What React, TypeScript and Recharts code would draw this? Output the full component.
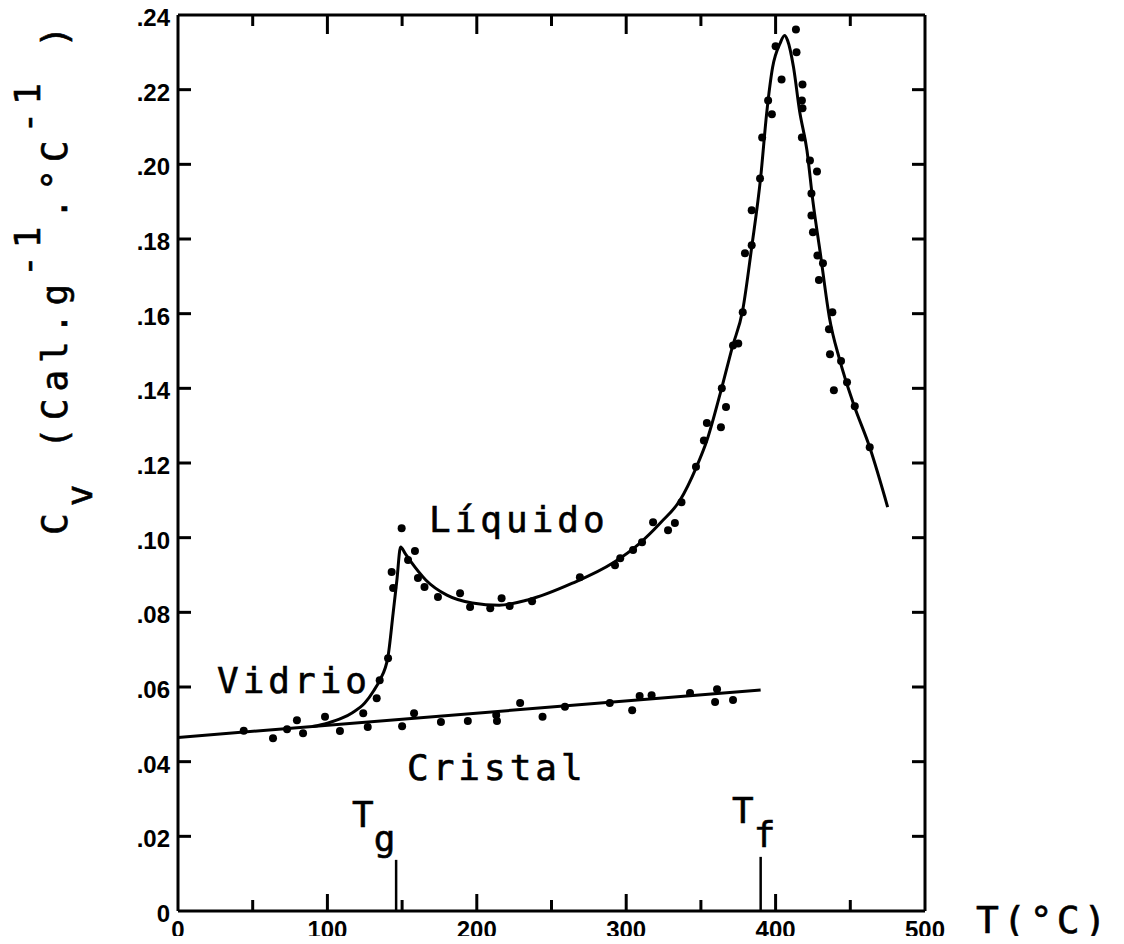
import { ComposedChart, Line, Scatter, XAxis, YAxis } from 'recharts';

// temperature ticks (°C) and their labels
const xTicks = [0, 50, 100, 150, 200, 250, 300, 350, 400, 450, 500];
const xTickLabels = ['0', '', '100', '', '200', '', '300', '', '400', '', '500'];

// Cv ticks and labels
const yTicks = [0, 0.02, 0.04, 0.06, 0.08, 0.1, 0.12, 0.14, 0.16, 0.18, 0.2, 0.22, 0.24];
const yTickLabels = ['0', '.02', '.04', '.06', '.08', '.10', '.12', '.14', '.16', '.18', '.20', '.22', '.24'];

// fitted line for the crystal
const crystalLine = [
  { t: 0, v: 0.0465 },
  { t: 390, v: 0.0592 },
];

// fitted curve glass -> liquid
const glassLiquidCurve = [
  { t: 90, v: 0.0494 },
  { t: 100, v: 0.0503 },
  { t: 110, v: 0.0517 },
  { t: 117, v: 0.0532 },
  { t: 125, v: 0.0557 },
  { t: 131, v: 0.059 },
  { t: 135, v: 0.0618 },
  { t: 140.5, v: 0.068 },
  { t: 144, v: 0.0798 },
  { t: 146.5, v: 0.0886 },
  { t: 149, v: 0.0975 },
  { t: 152, v: 0.0958 },
  { t: 156, v: 0.0935 },
  { t: 166, v: 0.0886 },
  { t: 180, v: 0.0846 },
  { t: 197, v: 0.0825 },
  { t: 215, v: 0.0819 },
  { t: 234, v: 0.0833 },
  { t: 264, v: 0.0878 },
  { t: 291, v: 0.0932 },
  { t: 309, v: 0.0985 },
  { t: 323, v: 0.104 },
  { t: 336, v: 0.11 },
  { t: 347, v: 0.1189 },
  { t: 354, v: 0.126 },
  { t: 363, v: 0.1387 },
  { t: 371, v: 0.151 },
  { t: 378, v: 0.161 },
  { t: 384, v: 0.1778 },
  { t: 390, v: 0.1965 },
  { t: 394, v: 0.2136 },
  { t: 398, v: 0.226 },
  { t: 403, v: 0.2324 },
  { t: 406, v: 0.2345 },
  { t: 408, v: 0.2332 },
  { t: 412, v: 0.226 },
  { t: 416, v: 0.2144 },
  { t: 421, v: 0.2037 },
  { t: 425, v: 0.19 },
  { t: 430, v: 0.176 },
  { t: 436, v: 0.159 },
  { t: 443, v: 0.1475 },
  { t: 452, v: 0.136 },
  { t: 463, v: 0.1242 },
  { t: 475, v: 0.1082 },
];

// measured points, crystal / glass branch
const crystalDots = [
  { t: 44, v: 0.0483 }, { t: 63.6, v: 0.0463 }, { t: 73, v: 0.0487 }, { t: 79.6, v: 0.0511 },
  { t: 83.7, v: 0.0476 }, { t: 98.4, v: 0.052 }, { t: 108.4, v: 0.0482 }, { t: 124, v: 0.053 },
  { t: 127, v: 0.0493 }, { t: 133, v: 0.057 }, { t: 135, v: 0.0618 }, { t: 140.6, v: 0.0677 },
  { t: 150, v: 0.0495 }, { t: 158, v: 0.053 }, { t: 176, v: 0.0506 }, { t: 194, v: 0.0509 },
  { t: 213, v: 0.0525 }, { t: 213.5, v: 0.0509 }, { t: 229, v: 0.0557 }, { t: 244, v: 0.052 },
  { t: 259, v: 0.0547 }, { t: 289, v: 0.0557 }, { t: 304, v: 0.0538 }, { t: 309, v: 0.0576 },
  { t: 317, v: 0.0578 }, { t: 342.7, v: 0.0584 }, { t: 360.8, v: 0.0594 }, { t: 359.5, v: 0.056 },
  { t: 371.5, v: 0.0565 },
];

// measured points, liquid branch
const liquidDots = [
  { t: 143, v: 0.0908 }, { t: 144, v: 0.0865 }, { t: 149.7, v: 0.1025 }, { t: 154, v: 0.094 },
  { t: 158.6, v: 0.0964 }, { t: 160.6, v: 0.0892 }, { t: 165, v: 0.0868 }, { t: 174, v: 0.0841 },
  { t: 188.8, v: 0.0851 }, { t: 195.5, v: 0.0814 }, { t: 209, v: 0.0811 }, { t: 216.6, v: 0.0838 },
  { t: 222, v: 0.0817 }, { t: 237, v: 0.083 }, { t: 269, v: 0.0894 }, { t: 292.5, v: 0.0926 },
  { t: 296, v: 0.0945 }, { t: 304.6, v: 0.0967 }, { t: 310.6, v: 0.0988 }, { t: 318, v: 0.1041 },
  { t: 328, v: 0.102 }, { t: 332.6, v: 0.1039 }, { t: 337, v: 0.1095 }, { t: 346.7, v: 0.119 },
  { t: 352, v: 0.126 }, { t: 354, v: 0.1307 }, { t: 363.4, v: 0.1296 }, { t: 364, v: 0.14 },
  { t: 366.8, v: 0.135 }, { t: 371.5, v: 0.1515 }, { t: 375, v: 0.152 }, { t: 378, v: 0.1604 },
  { t: 379.5, v: 0.1762 }, { t: 384, v: 0.1783 }, { t: 384, v: 0.1877 }, { t: 389.6, v: 0.1962 },
  { t: 391, v: 0.2072 }, { t: 395, v: 0.2171 }, { t: 397.5, v: 0.2134 }, { t: 400, v: 0.2316 },
  { t: 404, v: 0.2227 }, { t: 413.6, v: 0.2361 }, { t: 414, v: 0.23 }, { t: 417.6, v: 0.2171 },
  { t: 418, v: 0.2214 }, { t: 418, v: 0.215 }, { t: 417.6, v: 0.2072 }, { t: 423, v: 0.201 },
  { t: 427.7, v: 0.1981 }, { t: 424, v: 0.1922 }, { t: 424, v: 0.1863 }, { t: 425, v: 0.1818 },
  { t: 428, v: 0.1756 }, { t: 431.7, v: 0.1735 }, { t: 429, v: 0.169 }, { t: 438, v: 0.1604 },
  { t: 435.7, v: 0.1558 }, { t: 436.4, v: 0.1491 }, { t: 443.8, v: 0.1473 }, { t: 439, v: 0.1395 },
  { t: 447.8, v: 0.1416 }, { t: 453, v: 0.1352 }, { t: 463, v: 0.1242 },
];

// Tg and Tf markers
const tgMarker = [{ t: 146, v: 0 }, { t: 146, v: 0.0137 }];
const tfMarker = [{ t: 390, v: 0 }, { t: 390, v: 0.0145 }];

const INK = '#000';
const MONO = '"DejaVu Sans Mono", monospace';
const TICK_FONT = '"Liberation Sans", Arial, sans-serif';

const BottomTick = (props: any) => {
  const { x, y, payload } = props;
  const i = xTicks.indexOf(payload.value);
  const major = payload.value % 100 === 0;
  const inner = payload.value > 0 && payload.value < 500;
  return (
    <g>
      {inner && <line x1={x} x2={x} y1={y} y2={y - (major ? 17 : 11)} stroke={INK} strokeWidth={3} />}
      {xTickLabels[i] && (
        <text x={x} y={y + 27} textAnchor="middle" fontFamily={TICK_FONT} fontWeight={700} fontSize={24} fill={INK}>
          {xTickLabels[i]}
        </text>
      )}
    </g>
  );
};

const TopTick = (props: any) => {
  const { x, y, payload } = props;
  const major = payload.value % 100 === 0;
  if (payload.value <= 0 || payload.value >= 500) return <g />;
  return <line x1={x} x2={x} y1={y} y2={y + (major ? 19 : 11)} stroke={INK} strokeWidth={3} />;
};

const LeftTick = (props: any) => {
  const { x, y, index } = props;
  const inner = index > 0 && index < yTicks.length - 1;
  return (
    <g>
      {inner && <line x1={x} x2={x + 13} y1={y} y2={y} stroke={INK} strokeWidth={3} />}
      <text x={x - 8} y={y + 11} textAnchor="end" fontFamily={TICK_FONT} fontWeight={700} fontSize={24} fill={INK}>
        {yTickLabels[index]}
      </text>
    </g>
  );
};

const RightTick = (props: any) => {
  const { x, y, index } = props;
  if (index <= 0 || index >= yTicks.length - 1) return <g />;
  return <line x1={x} x2={x - 13} y1={y} y2={y} stroke={INK} strokeWidth={3} />;
};

const dot = (p: any) => <circle cx={p.cx} cy={p.cy} r={4} fill={INK} />;

const axisLine = { stroke: INK, strokeWidth: 3 };
// typewriter lettering is a bit heavier than the plain mono font
const ink = { fill: INK, stroke: INK, strokeWidth: 0.6 };

export default function App() {
  return (
    <div style={{ margin: -8, width: 1124, height: 944, background: '#fff' }}>
      <ComposedChart width={1124} height={944} margin={{ top: 14, right: 198, bottom: 0, left: 0 }}>
        <XAxis
          xAxisId="b"
          dataKey="t"
          type="number"
          domain={[0, 500]}
          ticks={xTicks}
          interval={0}
          tickSize={0}
          tickMargin={0}
          tickLine={false}
          axisLine={axisLine}
          height={33}
          tick={BottomTick}
          allowDataOverflow
        />
        <XAxis
          xAxisId="t"
          dataKey="t"
          orientation="top"
          type="number"
          domain={[0, 500]}
          ticks={xTicks}
          interval={0}
          tickSize={0}
          tickMargin={0}
          tickLine={false}
          axisLine={axisLine}
          height={1}
          tick={TopTick}
          allowDataOverflow
        />
        <YAxis
          yAxisId="l"
          dataKey="v"
          type="number"
          domain={[0, 0.24]}
          ticks={yTicks}
          interval={0}
          tickSize={0}
          tickMargin={0}
          tickLine={false}
          axisLine={axisLine}
          width={178}
          tick={LeftTick}
          allowDataOverflow
        />
        <YAxis
          yAxisId="r"
          dataKey="v"
          orientation="right"
          type="number"
          domain={[0, 0.24]}
          ticks={yTicks}
          interval={0}
          tickSize={0}
          tickMargin={0}
          tickLine={false}
          axisLine={axisLine}
          width={1}
          tick={RightTick}
          allowDataOverflow
        />

        {/* invisible copy so the top and right frame axes get a scale */}
        <Line xAxisId="t" yAxisId="r" data={crystalLine} dataKey="v" stroke="none" dot={false} activeDot={false} isAnimationActive={false} />

        <Line xAxisId="b" yAxisId="l" data={crystalLine} dataKey="v" type="linear" stroke={INK} strokeWidth={3} dot={false} isAnimationActive={false} />
        <Line xAxisId="b" yAxisId="l" data={glassLiquidCurve} dataKey="v" type="monotone" stroke={INK} strokeWidth={3} dot={false} isAnimationActive={false} />
        <Line xAxisId="b" yAxisId="l" data={tgMarker} dataKey="v" type="linear" stroke={INK} strokeWidth={2.5} dot={false} isAnimationActive={false} />
        <Line xAxisId="b" yAxisId="l" data={tfMarker} dataKey="v" type="linear" stroke={INK} strokeWidth={2.5} dot={false} isAnimationActive={false} />
        <Scatter xAxisId="b" yAxisId="l" data={crystalDots} dataKey="v" shape={dot} isAnimationActive={false} />
        <Scatter xAxisId="b" yAxisId="l" data={liquidDots} dataKey="v" shape={dot} isAnimationActive={false} />

        <text x={429} y={532} fontFamily={MONO} fontSize={36} letterSpacing={4} {...ink}>Líquido</text>
        <text x={217} y={693} fontFamily={MONO} fontSize={36} letterSpacing={4} {...ink}>Vidrio</text>
        <text x={407} y={780} fontFamily={MONO} fontSize={36} letterSpacing={4} {...ink}>Cristal</text>
        <text x={352} y={827} fontFamily={MONO} fontSize={36} {...ink}>
          T<tspan dy={24}>g</tspan>
        </text>
        <text x={732} y={823} fontFamily={MONO} fontSize={36} {...ink}>
          T<tspan dy={24}>f</tspan>
        </text>
        <text x={976} y={933} fontFamily={MONO} fontSize={38} letterSpacing={4} {...ink}>T(°C)</text>
        <text x={67} y={535} transform="rotate(-90 67 535)" fontFamily={MONO} fontSize={36} letterSpacing={7} {...ink}>
          C<tspan dy={25}>v</tspan>
          <tspan dy={-25}> (Cal.g</tspan>
          <tspan dy={-27}>-1</tspan>
          <tspan dy={27}>.°C</tspan>
          <tspan dy={-27}>-1</tspan>
          <tspan dy={27}> )</tspan>
        </text>
      </ComposedChart>
    </div>
  );
}
